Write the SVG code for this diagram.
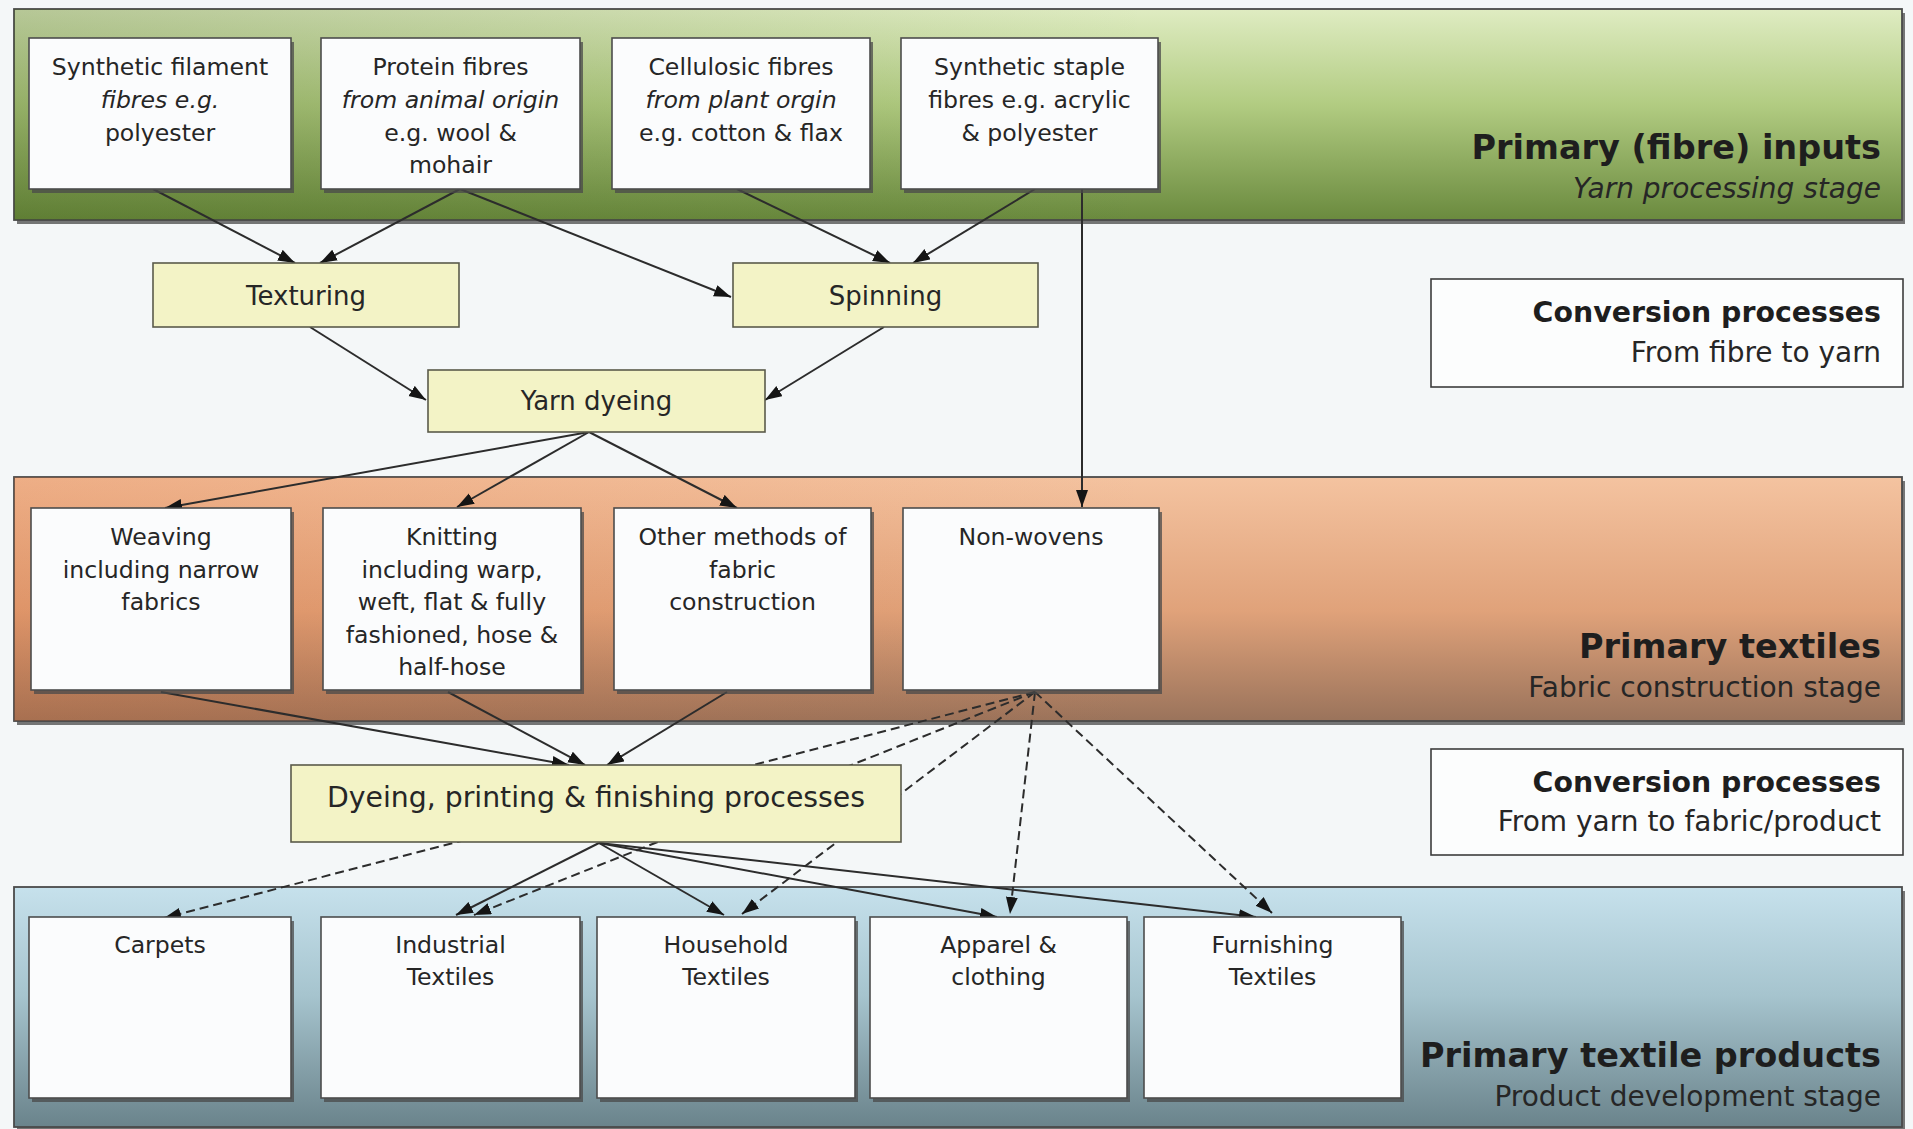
<svg xmlns="http://www.w3.org/2000/svg" width="1913" height="1129" viewBox="0 0 1913 1129">
  <style>
    .t { font-family: "DejaVu Sans", Verdana, sans-serif; fill: #262626; }
    .box { font-size: 23.6px; text-anchor: middle; }
    .proc { font-size: 26px; text-anchor: middle; }
    .it { font-style: italic; }
    .title { font-size: 33.5px; font-weight: bold; text-anchor: end; fill: #1e1e1e; }
    .conv { font-size: 28.4px; font-weight: bold; text-anchor: end; fill: #1e1e1e; }
    .sub { font-size: 28px; text-anchor: end; }
    .node { fill: #fbfcfd; stroke: #4d4d4d; stroke-width: 1.6; }
    .pnode { fill: #f3f3c6; stroke: #5a5a4a; stroke-width: 1.6; }
    .shadow { fill: #4a4a4a; opacity: 0.75; }
    .band { stroke: #4a4a4a; stroke-width: 1.8; }
    .legend { fill: #fcfdfd; stroke: #3c3c3c; stroke-width: 1.6; }
    .edge { fill: none; stroke: #2c2c2c; stroke-width: 2; marker-end: url(#arrow); }
    .dash { stroke-dasharray: 9 5; }
  </style>
  <defs>
    <marker id="arrow" markerUnits="userSpaceOnUse" markerWidth="20" markerHeight="14" refX="17" refY="6" orient="auto">
      <path d="M0,0 L17,6 L0,12 z" fill="#151515"/>
    </marker>
    <linearGradient id="gGreen" x1="0" y1="0" x2="0" y2="1">
      <stop offset="0" stop-color="#dfecc2"/>
      <stop offset="0.45" stop-color="#b2cc82"/>
      <stop offset="1" stop-color="#6a8a3e"/>
    </linearGradient>
    <linearGradient id="gOrange" x1="0" y1="0" x2="0" y2="1">
      <stop offset="0" stop-color="#f4c3a0"/>
      <stop offset="0.55" stop-color="#e0a27a"/>
      <stop offset="1" stop-color="#9a735b"/>
    </linearGradient>
    <linearGradient id="gBlue" x1="0" y1="0" x2="0" y2="1">
      <stop offset="0" stop-color="#c6e1ec"/>
      <stop offset="0.45" stop-color="#a6c4ce"/>
      <stop offset="1" stop-color="#6a838b"/>
    </linearGradient>
    <linearGradient id="gLeftShade" x1="0" y1="0" x2="1" y2="0">
      <stop offset="0" stop-color="#3d5a16" stop-opacity="0.25"/>
      <stop offset="0.6" stop-color="#3d5a16" stop-opacity="0"/>
    </linearGradient>
    <linearGradient id="oLeftShade" x1="0" y1="0" x2="1" y2="0">
      <stop offset="0" stop-color="#d8642a" stop-opacity="0.22"/>
      <stop offset="0.6" stop-color="#d8642a" stop-opacity="0"/>
    </linearGradient>
  </defs>

  <!-- page -->
  <rect x="0" y="0" width="1913" height="1129" fill="#f4f7f8"/>

  <!-- stage bands -->
  <g id="band-fibre">
    <rect class="shadow" x="17" y="13" width="1888" height="211"/>
    <rect class="band" x="14" y="9" width="1888" height="211" fill="url(#gGreen)"/>
    <rect x="14" y="9" width="1888" height="211" fill="url(#gLeftShade)"/>
    <text class="t title" x="1881" y="159">Primary (fibre) inputs</text>
    <text class="t sub it" x="1881" y="198">Yarn processing stage</text>
  </g>
  <g id="band-fabric">
    <rect class="shadow" x="17" y="481" width="1888" height="244"/>
    <rect class="band" x="14" y="477" width="1888" height="244" fill="url(#gOrange)"/>
    <rect x="14" y="477" width="1888" height="244" fill="url(#oLeftShade)"/>
    <text class="t title" x="1881" y="658">Primary textiles</text>
    <text class="t sub" x="1881" y="697">Fabric construction stage</text>
  </g>
  <g id="band-product">
    <rect class="shadow" x="17" y="891" width="1888" height="240"/>
    <rect class="band" x="14" y="887" width="1888" height="240" fill="url(#gBlue)"/>
    <text class="t title" x="1881" y="1067">Primary textile products</text>
    <text class="t sub" x="1881" y="1106">Product development stage</text>
  </g>

  <!-- conversion legends -->
  <g id="conv-fibre-yarn">
    <rect class="legend" x="1431" y="279" width="472" height="108"/>
    <text class="t conv" x="1881" y="322">Conversion processes</text>
    <text class="t sub" x="1881" y="362">From fibre to yarn</text>
  </g>
  <g id="conv-yarn-fabric">
    <rect class="legend" x="1431" y="749" width="472" height="106"/>
    <text class="t conv" x="1881" y="792">Conversion processes</text>
    <text class="t sub" x="1881" y="831">From yarn to fabric/product</text>
  </g>

  <!-- connectors -->
  <g id="connectors">
    <line class="edge" x1="153" y1="189" x2="295" y2="263"/>
    <line class="edge" x1="460" y1="189" x2="320" y2="263"/>
    <line class="edge" x1="460" y1="189" x2="731" y2="297"/>
    <line class="edge" x1="737" y1="189" x2="890" y2="263"/>
    <line class="edge" x1="1035" y1="189" x2="913" y2="263"/>
    <line class="edge" x1="1082" y1="189" x2="1082" y2="507"/>
    <line class="edge" x1="310" y1="327" x2="426" y2="400"/>
    <line class="edge" x1="884" y1="327" x2="765" y2="400"/>
    <line class="edge" x1="589" y1="432" x2="165" y2="508"/>
    <line class="edge" x1="589" y1="432" x2="457" y2="507"/>
    <line class="edge" x1="589" y1="432" x2="737" y2="508"/>
    <line class="edge" x1="161" y1="692" x2="569" y2="765"/>
    <line class="edge" x1="448" y1="692" x2="585" y2="765"/>
    <line class="edge" x1="727" y1="692" x2="607" y2="765"/>
    <line class="edge" x1="599" y1="843" x2="456" y2="915"/>
    <line class="edge" x1="599" y1="843" x2="724" y2="915"/>
    <line class="edge" x1="599" y1="843" x2="997" y2="917"/>
    <line class="edge" x1="599" y1="843" x2="1256" y2="917"/>
    <line class="edge dash" x1="1035" y1="692" x2="164" y2="918"/>
    <line class="edge dash" x1="1035" y1="692" x2="474" y2="915"/>
    <line class="edge dash" x1="1035" y1="692" x2="742" y2="914"/>
    <line class="edge dash" x1="1035" y1="692" x2="1010" y2="914"/>
    <line class="edge dash" x1="1035" y1="692" x2="1272" y2="913"/>
  </g>

  <!-- fibre inputs -->
  <g id="synthetic-filament">
    <rect class="shadow" x="32" y="42" width="262" height="151"/>
    <rect class="node" x="29" y="38" width="262" height="151"/>
    <text class="t box" x="160" y="75">Synthetic filament</text>
    <text class="t box it" x="160" y="108">fibres e.g.</text>
    <text class="t box" x="160" y="141">polyester</text>
  </g>
  <g id="protein-fibres">
    <rect class="shadow" x="324" y="42" width="259" height="151"/>
    <rect class="node" x="321" y="38" width="259" height="151"/>
    <text class="t box" x="450.5" y="75">Protein fibres</text>
    <text class="t box it" x="450.5" y="108">from animal origin</text>
    <text class="t box" x="450.5" y="141">e.g. wool &amp;</text>
    <text class="t box" x="450.5" y="173">mohair</text>
  </g>
  <g id="cellulosic-fibres">
    <rect class="shadow" x="615" y="42" width="258" height="151"/>
    <rect class="node" x="612" y="38" width="258" height="151"/>
    <text class="t box" x="741" y="75">Cellulosic fibres</text>
    <text class="t box it" x="741" y="108">from plant orgin</text>
    <text class="t box" x="741" y="141">e.g. cotton &amp; flax</text>
  </g>
  <g id="synthetic-staple">
    <rect class="shadow" x="904" y="42" width="257" height="151"/>
    <rect class="node" x="901" y="38" width="257" height="151"/>
    <text class="t box" x="1029.5" y="75">Synthetic staple</text>
    <text class="t box" x="1029.5" y="108">fibres e.g. acrylic</text>
    <text class="t box" x="1029.5" y="141">&amp; polyester</text>
  </g>

  <!-- yarn processes -->
  <g id="texturing">
    <rect class="pnode" x="153" y="263" width="306" height="64"/>
    <text class="t proc" x="306" y="305">Texturing</text>
  </g>
  <g id="spinning">
    <rect class="pnode" x="733" y="263" width="305" height="64"/>
    <text class="t proc" x="885.5" y="305">Spinning</text>
  </g>
  <g id="yarn-dyeing">
    <rect class="pnode" x="428" y="370" width="337" height="62"/>
    <text class="t proc" x="596.5" y="410">Yarn dyeing</text>
  </g>

  <!-- fabric construction -->
  <g id="weaving">
    <rect class="shadow" x="34" y="512" width="260" height="182"/>
    <rect class="node" x="31" y="508" width="260" height="182"/>
    <text class="t box" x="161" y="545">Weaving</text>
    <text class="t box" x="161" y="578">including narrow</text>
    <text class="t box" x="161" y="610">fabrics</text>
  </g>
  <g id="knitting">
    <rect class="shadow" x="326" y="512" width="258" height="182"/>
    <rect class="node" x="323" y="508" width="258" height="182"/>
    <text class="t box" x="452" y="545">Knitting</text>
    <text class="t box" x="452" y="578">including warp,</text>
    <text class="t box" x="452" y="610">weft, flat &amp; fully</text>
    <text class="t box" x="452" y="643">fashioned, hose &amp;</text>
    <text class="t box" x="452" y="675">half-hose</text>
  </g>
  <g id="other-methods">
    <rect class="shadow" x="617" y="512" width="257" height="182"/>
    <rect class="node" x="614" y="508" width="257" height="182"/>
    <text class="t box" x="742.5" y="545">Other methods of</text>
    <text class="t box" x="742.5" y="578">fabric</text>
    <text class="t box" x="742.5" y="610">construction</text>
  </g>
  <g id="non-wovens">
    <rect class="shadow" x="906" y="512" width="256" height="182"/>
    <rect class="node" x="903" y="508" width="256" height="182"/>
    <text class="t box" x="1031" y="545">Non-wovens</text>
  </g>

  <!-- finishing -->
  <g id="dyeing-printing-finishing">
    <rect class="pnode" x="291" y="765" width="610" height="77"/>
    <text class="t proc" style="font-size:28.3px" x="596" y="807">Dyeing, printing &amp; finishing processes</text>
  </g>

  <!-- products -->
  <g id="carpets">
    <rect class="shadow" x="32" y="921" width="262" height="181"/>
    <rect class="node" x="29" y="917" width="262" height="181"/>
    <text class="t box" x="160" y="953">Carpets</text>
  </g>
  <g id="industrial-textiles">
    <rect class="shadow" x="324" y="921" width="259" height="181"/>
    <rect class="node" x="321" y="917" width="259" height="181"/>
    <text class="t box" x="450.5" y="953">Industrial</text>
    <text class="t box" x="450.5" y="985">Textiles</text>
  </g>
  <g id="household-textiles">
    <rect class="shadow" x="600" y="921" width="258" height="181"/>
    <rect class="node" x="597" y="917" width="258" height="181"/>
    <text class="t box" x="726" y="953">Household</text>
    <text class="t box" x="726" y="985">Textiles</text>
  </g>
  <g id="apparel-clothing">
    <rect class="shadow" x="873" y="921" width="257" height="181"/>
    <rect class="node" x="870" y="917" width="257" height="181"/>
    <text class="t box" x="998.5" y="953">Apparel &amp;</text>
    <text class="t box" x="998.5" y="985">clothing</text>
  </g>
  <g id="furnishing-textiles">
    <rect class="shadow" x="1147" y="921" width="257" height="181"/>
    <rect class="node" x="1144" y="917" width="257" height="181"/>
    <text class="t box" x="1272.5" y="953">Furnishing</text>
    <text class="t box" x="1272.5" y="985">Textiles</text>
  </g>
</svg>
